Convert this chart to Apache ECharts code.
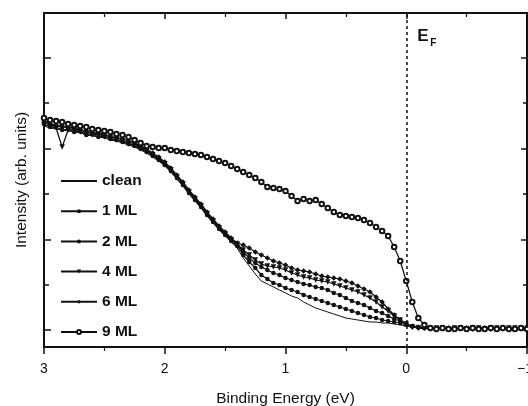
<!DOCTYPE html>
<html>
<head>
<meta charset="utf-8">
<script src="https://cdn.jsdelivr.net/npm/echarts@6/dist/echarts.min.js"></script>
<style>
html,body{margin:0;padding:0;background:#fff;}
#chart{width:528px;height:406px;}
</style>
</head>
<body>
<div id="chart"></div>
<script>
// Binding energy (eV)
const energy = [3.00, 2.95, 2.90, 2.85, 2.80, 2.75, 2.70, 2.65, 2.60, 2.55,
  2.50, 2.45, 2.40, 2.35, 2.30, 2.25, 2.20, 2.15, 2.10, 2.05,
  2.00, 1.95, 1.90, 1.85, 1.80, 1.75, 1.70, 1.65, 1.60, 1.55,
  1.50, 1.45, 1.40, 1.35, 1.30, 1.25, 1.20, 1.15, 1.10, 1.05,
  1.00, 0.95, 0.90, 0.85, 0.80, 0.75, 0.70, 0.65, 0.60, 0.55,
  0.50, 0.45, 0.40, 0.35, 0.30, 0.25, 0.20, 0.15, 0.10, 0.05,
  0.00, -0.05, -0.10, -0.15, -0.20, -0.25, -0.30, -0.35, -0.40, -0.45,
  -0.50, -0.55, -0.60, -0.65, -0.70, -0.75, -0.80, -0.85, -0.90, -0.95,
  -1.00];

// Intensities (arb. units)
const clean = [204,202,201,200,199,198,197,195,194,193,
  192,190,189,187,185,183,180,177,173,169,
  164,158,151,144,136,129,122,114,107,100,
  94,88,82,72,64,56,49,46,43,40,
  37,34,32,28,25,22,20,18,16,14,
  12,11,10,9,8,8,7,7,6,5,
  4,3,2,2,2,2,2,2,2,2,
  2,2,2,2,2,2,2,2,2,2,
  2];
const ml1 = [206,203,203,200,201,198,199,195,196,193,
  194,191,190,188,186,184,181,178,174,170,
  165,159,152,145,137,130,123,115,108,101,
  95,89,84,75,68,62,55,51,47,45,
  42,40,38,35,33,31,29,27,25,23,
  21,19,17,15,13,12,10,9,8,7,
  5,4,3,2,2,1,2,2,1,2,
  2,1,2,2,1,2,2,1,2,2,
  1];
const ml2 = [208,205,204,203,203,201,200,198,198,196,
  195,193,192,190,188,186,183,180,176,172,
  167,161,154,147,139,132,125,117,110,103,
  97,91,85,78,72,67,63,60,57,55,
  52,50,48,46,45,43,42,40,37,35,
  32,29,27,25,22,19,17,14,11,9,
  6,4,3,2,2,2,1,2,2,1,
  2,2,1,2,2,1,2,2,1,2,
  2];
const ml4 = [205,204,202,183,200,201,198,197,195,196,
  193,192,190,189,186,185,182,179,175,171,
  166,160,153,146,138,131,124,116,109,102,
  96,90,86,80,75,70,66,64,63,62,
  60,57,55,53,52,50,49,48,46,44,
  42,40,38,35,32,28,23,19,14,10,
  6,3,2,2,1,2,2,1,2,2,
  1,2,2,1,2,2,1,2,2,1,
  2];
const ml6 = [210,206,205,204,202,203,200,199,197,197,
  196,193,193,191,189,187,184,181,177,173,
  168,162,155,148,140,133,126,118,111,104,
  98,92,87,85,82,78,75,72,69,67,
  65,62,60,59,58,56,54,53,52,51,
  49,47,44,41,38,33,28,21,15,10,
  6,3,2,2,2,1,2,2,1,2,
  2,1,2,2,1,2,2,1,2,2,
  1];
const ml9 = [212,210,209,208,206,205,204,203,201,200,
  199,198,196,195,193,190,187,184,183,182,
  182,180,179,178,177,176,175,173,171,169,
  167,164,161,158,155,152,148,143,142,141,
  139,134,129,131,129,130,126,122,118,115,
  114,113,112,110,107,103,99,94,83,69,
  49,28,12,5,2,1,2,1,1,2,
  1,2,1,1,2,1,2,1,1,2,
  1];

const seriesNames = ['clean', '1 ML', '2 ML', '4 ML', '6 ML', '9 ML'];
const seriesValues = [clean, ml1, ml2, ml4, ml6, ml9];
const yTicksMajor = [0, 90, 181, 272];
const yTicksMinor = [45, 136, 227];
const fermiLevel = 0;

const FONT = '"Liberation Sans", Arial, sans-serif';
const INK = '#111';

const symbolStyles = [
  {symbol: 'none', size: 0, rotate: 0},
  {symbol: 'circle', size: 4.5, rotate: 0},
  {symbol: 'circle', size: 4.5, rotate: 0},
  {symbol: 'triangle', size: 5.5, rotate: 180},
  {symbol: 'diamond', size: 5.5, rotate: 0},
  {symbol: 'emptyCircle', size: 4.5, rotate: 0}
];

const chart = echarts.init(document.getElementById('chart'), null, {renderer: 'canvas'});

const yMin = -17, yMax = 317;

function yAxisDef(position, ticks, len, showLine, extra) {
  return Object.assign({
    type: 'value', position: position, min: yMin, max: yMax,
    axisLine: {show: showLine, onZero: false, lineStyle: {color: INK, width: 2}},
    axisTick: {show: true, inside: true, length: len, customValues: ticks, lineStyle: {color: INK, width: 1.5}},
    axisLabel: {show: false},
    splitLine: {show: false}
  }, extra || {});
}

const series = seriesNames.map((name, k) => {
  const st = symbolStyles[k];
  return {
    name: name,
    type: 'line',
    xAxisIndex: 0,
    yAxisIndex: 0,
    data: energy.map((e, i) => [e, seriesValues[k][i]]),
    symbol: st.symbol,
    symbolSize: st.size,
    symbolRotate: st.rotate,
    showSymbol: st.symbol !== 'none',
    showAllSymbol: true,
    lineStyle: {color: INK, width: k === 0 ? 1 : 1.25},
    itemStyle: {color: INK, borderColor: INK, borderWidth: k === 5 ? 1.1 : 0},
    emphasis: {disabled: true},
    z: 3
  };
});

series[5].markLine = {
  silent: true,
  symbol: 'none',
  animation: false,
  label: {show: false},
  lineStyle: {color: INK, width: 1.5, type: [3, 3]},
  data: [{xAxis: fermiLevel}]
};

const legendData = seriesNames.map((n, k) => k === 0
  ? {name: n, itemStyle: {opacity: 0}}
  : {name: n});

chart.setOption({
  animation: false,
  backgroundColor: '#fff',
  textStyle: {fontFamily: FONT},
  grid: {left: 44, right: 1, top: 13, bottom: 59, containLabel: false, outerBoundsMode: 'none'},
  legend: {
    orient: 'vertical',
    left: 60,
    top: 173,
    padding: 0,
    itemWidth: 36,
    itemHeight: 5,
    itemGap: 14.2,
    selectedMode: false,
    data: legendData,
    textStyle: {fontFamily: FONT, fontSize: 15.5, fontWeight: 'bold', color: INK}
  },
  xAxis: [
    {
      type: 'value', position: 'bottom', inverse: true, min: -1, max: 3, interval: 1,
      name: 'Binding Energy (eV)', nameLocation: 'middle', nameGap: 44,
      nameTextStyle: {fontFamily: FONT, fontSize: 15.5, color: INK},
      axisLine: {show: true, onZero: false, lineStyle: {color: INK, width: 2}},
      axisTick: {show: true, inside: false, length: 7, lineStyle: {color: INK, width: 1.5}},
      minorTick: {show: true, splitNumber: 2, length: 4, lineStyle: {color: INK, width: 1.2}},
      axisLabel: {
        show: true, margin: 15, fontFamily: FONT, fontSize: 14, color: INK,
        formatter: v => v < 0 ? '\u2212' + Math.abs(v) + ' ' : String(v)
      },
      splitLine: {show: false}
    },
    {
      type: 'value', position: 'top', inverse: true, min: -1, max: 3, interval: 1,
      axisLine: {show: true, onZero: false, lineStyle: {color: INK, width: 2}},
      axisTick: {show: true, inside: true, length: 6, lineStyle: {color: INK, width: 1.5}},
      minorTick: {show: true, splitNumber: 2, length: 4, lineStyle: {color: INK, width: 1.2}},
      axisLabel: {show: false},
      splitLine: {show: false}
    }
  ],
  yAxis: [
    yAxisDef('left', yTicksMajor, 7, true, {
      name: 'Intensity (arb. units)', nameLocation: 'middle', nameGap: 14,
      nameTextStyle: {fontFamily: FONT, fontSize: 15.5, color: INK}
    }),
    yAxisDef('left', yTicksMinor, 5, false),
    yAxisDef('right', yTicksMajor, 6, true),
    yAxisDef('right', yTicksMinor, 4, false)
  ],
  series: series
});

const fx = chart.convertToPixel({xAxisIndex: 0}, fermiLevel);
chart.setOption({
  graphic: [
    {type: 'text', left: fx + 11, top: 28, z: 10,
      style: {text: 'E', fontFamily: FONT, fontSize: 17, fontWeight: 'bold', fill: INK}},
    {type: 'text', left: fx + 24, top: 38, z: 10,
      style: {text: 'F', fontFamily: FONT, fontSize: 10, fontWeight: 'bold', fill: INK}}
  ]
});
</script>
</body>
</html>
